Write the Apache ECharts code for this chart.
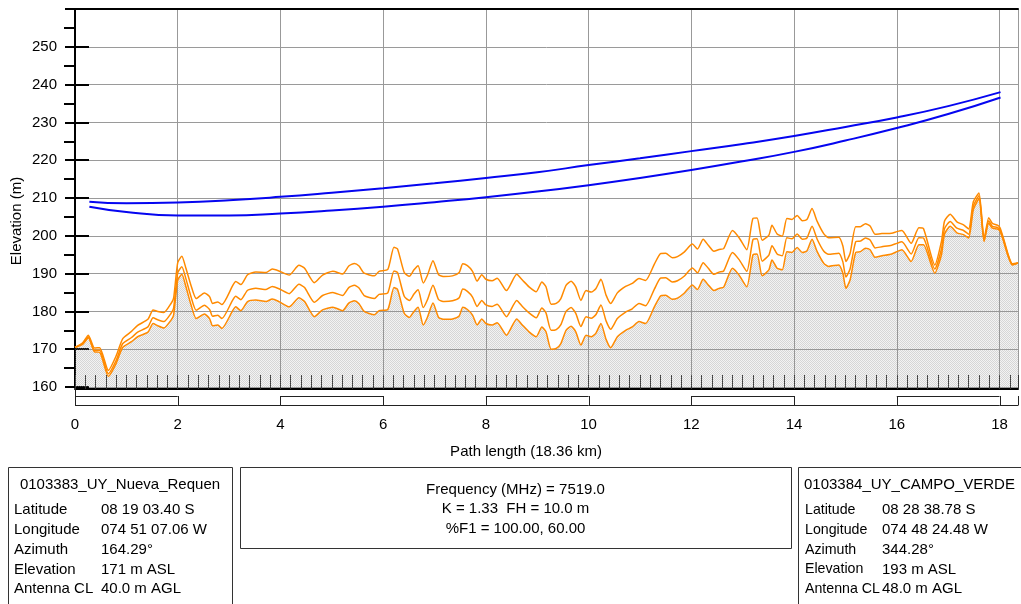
<!DOCTYPE html>
<html>
<head>
<meta charset="utf-8">
<script src="https://cdn.jsdelivr.net/npm/echarts@6/dist/echarts.min.js"></script>
<style>
html,body{margin:0;padding:0;background:#fff;}
#chart{width:1021px;height:604px;}
</style>
</head>
<body>
<div id="chart"></div>
<script>
// ---- data ----
const kmPts = [0.00,0.15,0.26,0.38,0.48,0.65,0.80,0.93,1.10,1.22,1.42,1.52,1.61,1.73,1.87,1.92,2.00,2.08,2.16,2.26,2.36,2.52,2.62,2.68,2.78,2.86,3.07,3.13,3.23,3.36,3.52,3.72,3.84,3.97,4.17,4.36,4.47,4.66,4.82,5.02,5.21,5.33,5.44,5.53,5.63,5.83,5.92,6.09,6.21,6.28,6.41,6.51,6.60,6.68,6.78,6.86,6.97,7.08,7.19,7.35,7.48,7.55,7.64,7.74,7.83,7.92,8.00,8.12,8.22,8.40,8.60,8.71,8.84,8.98,9.09,9.17,9.27,9.37,9.46,9.56,9.66,9.75,9.85,9.95,10.05,10.14,10.24,10.34,10.43,10.56,10.72,10.85,10.98,11.11,11.28,11.40,11.50,11.63,11.73,11.86,12.02,12.12,12.23,12.33,12.44,12.54,12.63,12.80,12.93,13.08,13.20,13.28,13.38,13.51,13.57,13.67,13.77,13.86,13.96,14.06,14.16,14.25,14.35,14.45,14.58,14.67,14.87,14.95,15.01,15.09,15.20,15.29,15.39,15.48,15.58,15.71,15.90,16.00,16.10,16.28,16.43,16.52,16.74,16.87,16.93,17.04,17.17,17.30,17.40,17.49,17.60,17.70,17.79,17.86,17.96,18.01,18.08,18.17,18.25,18.36];
const terrain = [170.5,171.3,173.0,169.3,169.2,162.8,166.2,170.5,172.0,173.3,174.5,176.8,176.2,175.6,177.7,179.0,188.3,189.8,186.5,181.7,178.1,179.3,178.1,176.2,176.4,175.5,180.2,181.2,180.2,182.6,183.0,182.6,183.3,182.6,181.2,183.6,182.6,178.6,180.4,181.1,180.2,182.2,182.8,182.0,180.0,179.1,180.2,180.5,186.3,185.8,179.5,178.4,180.0,181.1,176.4,178.4,182.2,178.4,177.9,178.0,178.8,181.1,180.5,179.0,176.4,178.0,176.8,176.4,177.0,173.7,178.0,176.4,174.6,173.3,175.9,174.6,170.0,170.2,171.5,175.0,176.1,174.6,171.1,173.7,173.3,174.2,176.8,172.6,170.4,173.3,175.0,175.9,177.3,176.8,181.2,184.1,184.3,183.2,183.5,184.8,187.0,185.8,188.5,187.0,185.5,186.1,186.4,191.4,189.6,186.5,195.0,195.2,189.4,191.0,193.6,191.4,191.0,195.8,195.6,196.9,195.6,196.0,199.1,195.8,192.7,191.9,192.3,190.1,186.1,188.3,195.6,195.8,196.7,196.3,194.3,194.7,195.2,195.8,196.3,193.2,197.6,197.6,190.1,195.0,200.5,202.5,200.8,200.3,199.4,206.9,209.8,198.5,203.4,202.0,201.8,201.2,198.5,194.5,192.3,192.8];
const curveMid = [170.5,171.5,173.3,169.7,169.7,163.5,167.0,171.5,173.1,174.5,175.9,178.3,177.8,177.3,179.5,180.9,190.2,191.8,188.6,183.8,180.3,181.6,180.5,178.7,179.0,178.1,183.0,184.0,183.1,185.6,186.1,185.8,186.6,186.0,184.7,187.2,186.3,182.4,184.2,185.0,184.2,186.3,186.9,186.2,184.2,183.4,184.5,184.9,190.7,190.3,184.0,182.9,184.6,185.7,181.0,183.0,186.9,183.1,182.6,182.8,183.6,185.9,185.3,183.8,181.3,182.9,181.7,181.3,181.9,178.6,182.9,181.3,179.6,178.3,180.9,179.6,175.0,175.2,176.5,180.0,181.0,179.5,176.0,178.6,178.2,179.1,181.7,177.5,175.3,178.1,179.8,180.7,182.1,181.5,185.9,188.8,188.9,187.8,188.1,189.3,191.5,190.2,192.9,191.4,189.8,190.4,190.7,195.6,193.7,190.6,199.0,199.2,193.3,194.9,197.4,195.2,194.7,199.5,199.2,200.5,199.1,199.4,202.5,199.1,195.9,195.1,195.4,193.1,189.1,191.2,198.4,198.6,199.4,198.9,196.8,197.1,197.5,198.0,198.4,195.2,199.5,199.4,191.2,196.5,201.9,203.8,202.0,201.4,200.4,207.8,210.6,198.8,204.0,202.5,202.2,201.6,198.8,194.7,192.4,192.8];
const curveTop = [170.5,171.7,173.7,170.3,170.4,164.4,168.2,172.8,174.7,176.3,177.9,180.4,180.0,179.7,182.1,183.5,192.9,194.6,191.4,186.8,183.4,184.9,183.9,182.1,182.5,181.8,186.8,187.9,187.1,189.7,190.4,190.3,191.2,190.7,189.6,192.2,191.4,187.6,189.6,190.6,189.9,192.0,192.7,192.0,190.1,189.4,190.6,191.1,197.0,196.5,190.3,189.3,191.0,192.1,187.5,189.5,193.4,189.7,189.2,189.4,190.3,192.6,192.1,190.6,188.0,189.7,188.5,188.1,188.8,185.5,189.8,188.3,186.5,185.2,187.8,186.5,181.9,182.1,183.4,186.9,188.0,186.5,182.9,185.5,185.1,186.0,188.5,184.3,182.1,184.9,186.6,187.4,188.7,188.2,192.5,195.3,195.4,194.2,194.5,195.7,197.8,196.5,199.1,197.5,195.9,196.4,196.6,201.4,199.5,196.3,204.6,204.7,198.8,200.2,202.8,200.5,199.9,204.6,204.3,205.4,204.0,204.3,207.2,203.8,200.5,199.5,199.6,197.3,193.2,195.3,202.4,202.4,203.2,202.6,200.4,200.6,200.7,201.1,201.4,198.0,202.1,201.9,192.3,198.5,203.9,205.7,203.7,202.9,201.8,209.0,211.3,199.2,204.8,203.3,202.8,202.1,199.2,195.0,192.6,192.8];

const losKm    = [0.28,1,2,3,4,5,6,7,8,9,10,11,12,13,14,15,16,17,18.02];
const losUpper = [209.0,208.6,208.8,209.4,210.3,211.4,212.6,213.9,215.3,216.8,218.7,220.5,222.4,224.3,226.4,228.8,231.3,234.3,238.0];
const losLower = [207.7,206.3,205.4,205.4,205.9,206.7,207.7,208.9,210.2,211.7,213.4,215.3,217.4,219.7,222.2,225.2,228.5,232.2,236.6];

const xMin = 0, xMax = 18.36, xLabelStep = 2, xTickStep = 0.2;
const yMin = 160, yMax = 260, yStep = 10;
const scaleStart = [0,2,4,6,8,10,12,14,16,18];
const scaleEnd   = [2,4,6,8,10,12,14,16,18,18.36];

const siteA = {name:'0103383_UY_Nueva_Requen', rows:[['Latitude','08 19 03.40 S'],['Longitude','074 51 07.06 W'],['Azimuth','164.29°'],['Elevation','171 m ASL'],['Antenna CL','40.0 m AGL']]};
const siteB = {name:'0103384_UY_CAMPO_VERDE', rows:[['Latitude','08 28 38.78 S'],['Longitude','074 48 24.48 W'],['Azimuth','344.28°'],['Elevation','193 m ASL'],['Antenna CL','48.0 m AGL']]};
const linkInfo = ['Frequency (MHz) = 7519.0','K = 1.33  FH = 10.0 m','%F1 = 100.00, 60.00'];

// ---- build ----
const FONT = '"Liberation Sans", Arial, sans-serif';
const FS = 15;
const pat = document.createElement('canvas');
pat.width = 2; pat.height = 2;
const pc = pat.getContext('2d');
pc.fillStyle = 'rgba(150,150,150,0.16)'; pc.fillRect(0,0,2,2);
pc.fillStyle = 'rgba(140,140,140,0.42)'; pc.fillRect(0,0,1,1); pc.fillRect(1,1,1,1);

const pairs = (xs, ys) => xs.map((x,i)=>[x, ys[i]]);
const ORANGE = '#ff8a00';

const graphics = [];
const txt = (x,y,text,align,fs) => ({type:'text', x:x, y:y, z:100, style:{text:text, fill:'#000', font:(fs||FS)+'px '+FONT, textAlign:align||'left', textVerticalAlign:'middle'}});
graphics.push({type:'text', x:17, y:221, rotation:Math.PI/2, style:{text:'Elevation (m)', fill:'#000', font:FS+'px '+FONT, textAlign:'center', textVerticalAlign:'middle'}});
graphics.push(txt(526, 452, 'Path length (18.36 km)', 'center'));
graphics.push({type:'rect', shape:{x:8.5,y:467.5,width:224,height:160}, style:{fill:'none', stroke:'#333', lineWidth:1}});
graphics.push({type:'rect', shape:{x:240.5,y:467.5,width:551,height:81}, style:{fill:'none', stroke:'#333', lineWidth:1}});
graphics.push({type:'rect', shape:{x:798.5,y:467.5,width:240,height:160}, style:{fill:'none', stroke:'#333', lineWidth:1}});
graphics.push(txt(120, 485, siteA.name, 'center'));
siteA.rows.forEach((r,i)=>{ graphics.push(txt(14, 510+i*19.8, r[0])); graphics.push(txt(101, 510+i*19.8, r[1])); });
graphics.push(txt(804, 485, siteB.name));
siteB.rows.forEach((r,i)=>{ graphics.push(txt(805, 510+i*19.8, r[0], 'left', 14.2)); graphics.push(txt(882, 510+i*19.8, r[1])); });
linkInfo.forEach((t,i)=>graphics.push(txt(515.5, 490+i*19.3, t, 'center')));

const chart = echarts.init(document.getElementById('chart'), null, {renderer:'canvas'});
chart.setOption({
  animation:false,
  backgroundColor:'#fff',
  textStyle:{fontFamily:FONT},
  grid:{left:75, right:0, top:9, bottom:217, containLabel:false},
  xAxis:[
    {type:'value', min:xMin, max:xMax, interval:xTickStep, position:'bottom', offset:2,
     axisLine:{show:true, lineStyle:{color:'#000', width:2}},
     axisTick:{show:true, inside:true, length:14, lineStyle:{color:'#333', width:1}},
     axisLabel:{show:true, margin:28, color:'#000', fontSize:FS, fontFamily:FONT,
       formatter:function(v){ const q=v/xLabelStep; return Math.abs(q-Math.round(q))<1e-6 ? String(Math.round(v)) : ''; }},
     splitLine:{show:false}},
    {type:'value', min:xMin, max:xMax, interval:xLabelStep, position:'bottom',
     axisLine:{show:false}, axisTick:{show:false}, axisLabel:{show:false},
     splitLine:{show:true, lineStyle:{color:'#999', width:1}}},
    {type:'value', min:xMin, max:xMax, interval:xLabelStep, position:'top',
     axisLine:{show:true, lineStyle:{color:'#000', width:2}}, axisTick:{show:false}, axisLabel:{show:false}, splitLine:{show:false}}
  ],
  yAxis:[
    {type:'value', min:yMin, max:yMax, interval:yStep, position:'left', offset:2,
     axisLine:{show:true, lineStyle:{color:'#000', width:2}},
     axisTick:{show:true, inside:false, length:10, lineStyle:{color:'#000', width:2}},
     minorTick:{show:true, splitNumber:2, length:11, lineStyle:{color:'#000', width:2}},
     axisLabel:{show:true, margin:16, color:'#000', fontSize:FS, fontFamily:FONT,
       formatter:function(v){ return v>=yMax ? '' : String(v); }},
     splitLine:{show:true, lineStyle:{color:'#9a9a9a', width:1}}},
    {type:'value', min:yMin, max:yMax, interval:yStep, position:'left', offset:2,
     axisLine:{show:false},
     axisTick:{show:true, inside:true, length:14, lineStyle:{color:'#000', width:2}},
     axisLabel:{show:false}, splitLine:{show:false}}
  ],
  series:[
    {type:'line', name:'terrain', data:pairs(kmPts, terrain), showSymbol:false, smooth:0.2,
     lineStyle:{color:ORANGE, width:1.5}, areaStyle:{origin:'start', color:{image:pat, repeat:'repeat'}}, z:3},
    {type:'line', name:'mid', data:pairs(kmPts, curveMid), showSymbol:false, smooth:0.2,
     lineStyle:{color:ORANGE, width:1.5}, z:4},
    {type:'line', name:'top', data:pairs(kmPts, curveTop), showSymbol:false, smooth:0.2,
     lineStyle:{color:ORANGE, width:1.5}, z:4},
    {type:'line', name:'losU', data:pairs(losKm, losUpper), showSymbol:false, smooth:true,
     lineStyle:{color:'#0505f0', width:2}, z:5},
    {type:'line', name:'losL', data:pairs(losKm, losLower), showSymbol:false, smooth:true,
     lineStyle:{color:'#0505f0', width:2}, z:5},
    {type:'custom', name:'scale', clip:false, z:6,
     data: scaleStart.map((s,i)=>[s, scaleEnd[i], i%2===0 ? 1 : 0, yMin]),
     encode:{x:[0,1], y:3},
     renderItem:function(params, api){
       const s = api.value(0), e = api.value(1), alt = api.value(2);
       const p0 = api.coord([s, yMin]), p1 = api.coord([e, yMin]);
       const y0 = p0[1];
       const ch = [];
       const st = {stroke:'#222', lineWidth:1, fill:null};
       ch.push({type:'line', shape:{x1:p0[0], y1:Math.round(y0+18)+0.5, x2:p1[0], y2:Math.round(y0+18)+0.5}, style:st});
       if (alt) {
         ch.push({type:'line', shape:{x1:p0[0], y1:Math.round(y0+9)+0.5, x2:p1[0], y2:Math.round(y0+9)+0.5}, style:st});
       }
       const vx0 = Math.round(p0[0])+0.5, vx1 = Math.round(p1[0])+0.5;
       ch.push({type:'line', shape:{x1:vx0, y1:(s===0? y0+2 : y0+9), x2:vx0, y2:y0+18.5}, style:st});
       ch.push({type:'line', shape:{x1:vx1, y1:y0+9, x2:vx1, y2:y0+18.5}, style:st});
       return {type:'group', children:ch};
     }}
  ],
  graphic:graphics
});
</script>
</body>
</html>
